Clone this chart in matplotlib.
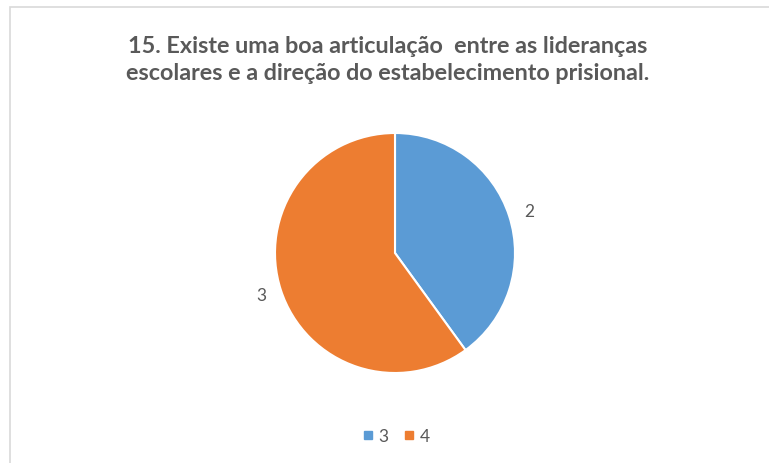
import matplotlib
matplotlib.use("Agg")
import matplotlib.pyplot as plt
from matplotlib.patches import Rectangle
from matplotlib.lines import Line2D

categories = ["3", "4"]
values = [2, 3]
colors = ["#5B9BD5", "#ED7D31"]
title = "15. Existe uma boa articulação  entre as lideranças\nescolares e a direção do estabelecimento prisional."

plt.rcParams['font.family'] = ['Lato', 'DejaVu Sans']
W, H = 769, 464
fig = plt.figure(figsize=(W / 100, H / 100), dpi=100)
fig.patch.set_facecolor("white")

# chart border
fig.patches.append(Rectangle((9.5 / W, -0.01), 1.0, 1 - 7.5 / H + 0.01, transform=fig.transFigure,
                             fill=False, edgecolor="#D9D9D9", linewidth=1.2))

cx, cy, r = 395, 254, 120
ax = fig.add_axes([(cx - r) / W, 1 - (cy + r) / H, 2 * r / W, 2 * r / H])
wedges, texts = ax.pie(values, colors=colors, startangle=90, counterclock=False,
                       labels=[str(v) for v in values], labeldistance=1.13,
                       wedgeprops=dict(edgecolor="white", linewidth=1.5),
                       textprops=dict(color="#595959", fontsize=12.5))
ax.set_aspect("equal")
ax.set_xlim(-1, 1)
ax.set_ylim(-1, 1)

fig.text(388 / W, 1 - 60 / H, title, ha="center", va="center", fontsize=16.8,
         fontweight="bold", color="#595959", linespacing=1.4)

handles = [Line2D([], [], marker="s", linestyle="none", markersize=6, color=c) for c in colors]
fig.legend(handles, categories, loc="center", bbox_to_anchor=(395 / W, 1 - 437 / H), ncol=2,
           frameon=False, fontsize=12.5, handletextpad=0.2, columnspacing=0.8,
           labelcolor="#595959", handlelength=0.8)

fig.savefig("out.png", dpi=100)
